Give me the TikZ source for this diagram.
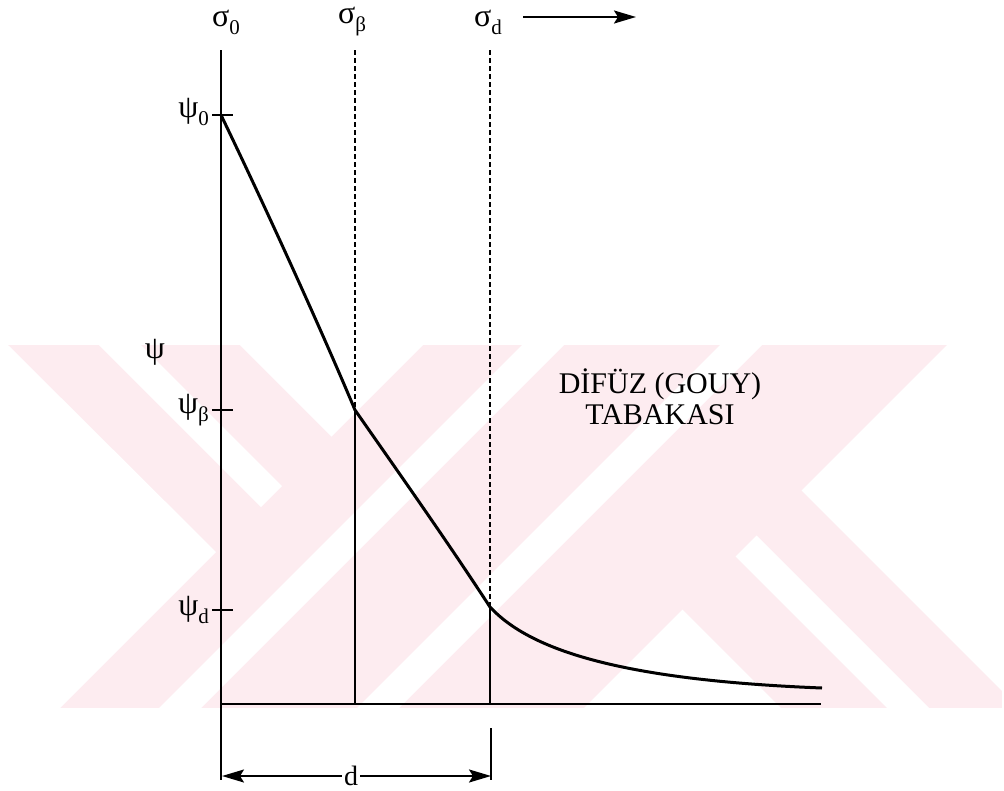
\documentclass[tikz,border=0pt]{standalone}
\usepackage{fontspec}
\setmainfont{Liberation Serif}
\usetikzlibrary{arrows.meta}
\definecolor{wm}{RGB}{253,236,240}
\newcommand{\lsub}[1]{\raisebox{-0.25em}{\fontsize{21}{21}\selectfont #1}}
\begin{document}
\begin{tikzpicture}[x=1pt,y=-1pt,
  axisline/.style={line width=2.6pt},
  thinline/.style={line width=2.1pt},
  dashline/.style={line width=1.6pt, dash pattern=on 5pt off 3pt},
  curveline/.style={line width=3pt, line join=round},
  lab/.style={inner sep=0pt, font=\fontsize{32}{32}\selectfont},
  arrowhd/.style={-{Stealth[length=22pt,width=13pt,inset=4pt]}},
  wmwhite/.style={fill=white, draw=none}
]
\useasboundingbox (0,0) rectangle (1004,790);
% ---- watermark ----
\fill[wm] (8,345) rectangle (1002,708);
\fill[wmwhite] (8,345) -- (216,552) -- (60,708) -- (8,708) -- cycle;
\fill[wmwhite] (99,345) -- (141,345) -- (282,486) -- (261,507) -- cycle;
\fill[wmwhite] (240,345) -- (331.5,436.5) -- (423,345) -- cycle;
\fill[wmwhite] (522,345) -- (564,345) -- (201,708) -- (159,708) -- cycle;
\fill[wmwhite] (720,345) -- (762,345) -- (399,708) -- (357,708) -- cycle;
\fill[wmwhite] (947,345) -- (1002,345) -- (1002,691) -- (801.5,490.5) -- cycle;
\fill[wmwhite] (756.5,535.5) -- (929,708) -- (887,708) -- (735.5,556.5) -- cycle;
\fill[wmwhite] (682.5,609.5) -- (781,708) -- (584,708) -- cycle;
% ---- coordinates ----
\coordinate (top0) at (221,50);
\coordinate (bot0) at (221,780);
\coordinate (O) at (221,704);
\coordinate (xend) at (821,704);
\coordinate (p0) at (221,115);
\coordinate (pb) at (355,410);
\coordinate (pd) at (490,607);
\coordinate (pend) at (822,688);
\coordinate (tb) at (355,50);
\coordinate (td) at (490,50);
\coordinate (bb) at (355,704);
\coordinate (bd) at (490,704);
\coordinate (ext1) at (491,728);
\coordinate (ext2) at (491,780);
\coordinate (dl) at (222,776);
\coordinate (dr) at (491,776);
% ---- axes ----
\draw[axisline] (top0) -- (bot0);
\draw[axisline] (O) -- (xend);
\draw[axisline] (212,115) -- (233,115);
\draw[axisline] (212,410) -- (233,410);
\draw[axisline] (212,610) -- (233,610);
% ---- guide lines ----
\draw[dashline] (tb) -- (pb);
\draw[dashline] (td) -- (pd);
\draw[thinline] (pb) -- (bb);
\draw[thinline] (pd) -- (bd);
\draw[thinline] (ext1) -- (ext2);
% ---- potential curve ----
\draw[curveline] (p0) .. controls (262,200) and (318,322) .. (pb)
  .. controls (401,476) and (447,541) .. (pd)
  .. controls (530,650) and (620,680) .. (pend);
% ---- labels ----
\node[lab] (s0) at (226,22) {σ\lsub{0}};
\node[lab] (sb) at (352,22) {σ\lsub{β}};
\node[lab] (sd) at (488,22) {σ\lsub{d}};
\coordinate (a1) at (523,17);
\coordinate (a2) at (636,17);
\draw[thinline, arrowhd] (a1) -- (a2);
\node[lab, anchor=east] (l0) at (209,112) {ψ\lsub{0}};
\node[lab, anchor=east] (lb) at (209,410) {ψ\lsub{β}};
\node[lab, anchor=east] (ld) at (209,610) {ψ\lsub{d}};
\node[lab] (psi) at (155,352) {ψ};
\node[align=center, inner sep=0pt, font=\fontsize{30}{31}\selectfont] (txt) at (660,397) {DİFÜZ (GOUY)\\TABAKASI};
% ---- dimension d ----
\draw[thinline, {Stealth[length=22pt,width=13pt,inset=4pt]}-{Stealth[length=22pt,width=13pt,inset=4pt]}] (dl) -- node[pos=0.48, fill=white, inner xsep=2pt, inner ysep=0pt, font=\fontsize{28}{28}\selectfont] (dlab) {d} (dr);
\end{tikzpicture}
\end{document}
